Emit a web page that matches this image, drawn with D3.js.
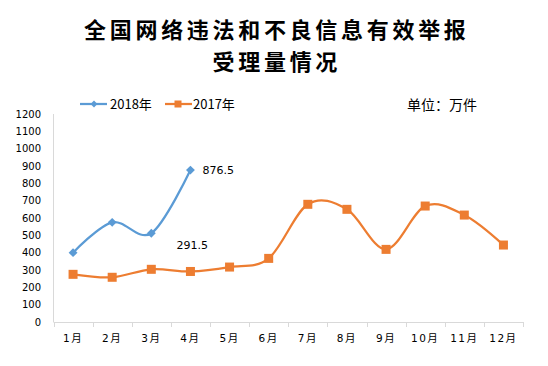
<!DOCTYPE html>
<html lang="zh">
<head>
<meta charset="UTF-8">
<title>全国网络违法和不良信息有效举报受理量情况</title>
<script src="https://d3js.org/d3.v7.min.js"></script>
<style>
  body { margin: 0; background: #fff; }
  text { fill: #000; }
</style>
</head>
<body>
<div id="chart"></div>
<script>
const months = ["1月","2月","3月","4月","5月","6月","7月","8月","9月","10月","11月","12月"];
const values2018 = [400, 575, 512, 876.5];
const values2017 = [275, 258, 304, 291.5, 317, 367, 679, 650, 419, 669, 617, 444];
const yTicks = [0,100,200,300,400,500,600,700,800,900,1000,1100,1200];
const labels = [
  { series: "2018", idx: 3, text: "876.5" },
  { series: "2017", idx: 3, text: "291.5" }
];

const W = 548, H = 366;
const cjk = "'Noto Sans CJK SC', sans-serif";
const numFont = "'DejaVu Sans', 'Noto Sans CJK SC', sans-serif";
const blue = "#5b9bd5", orange = "#ed7d31", grey = "#d9d9d9";

const svg = d3.select("#chart").append("svg")
  .attr("width", W).attr("height", H);

// title, two lines
const titleLines = ["全国网络违法和不良信息有效举报", "受理量情况"];
svg.selectAll("text.title").data(titleLines).join("text")
  .attr("class", "title")
  .attr("x", 276.8).attr("y", (d, i) => 38 + i * 32)
  .attr("text-anchor", "middle")
  .style("font-family", cjk).style("font-weight", "bold")
  .style("font-size", "22px").style("letter-spacing", "3.7px")
  .text(d => d);

const x = d3.scaleBand().domain(months).range([53.5, 523]);
const y = d3.scaleLinear().domain([0, 1200]).range([322, 114]);
const cx = m => x(m) + x.bandwidth() / 2;

// y axis
const yAxis = svg.append("g");
yAxis.append("line")
  .attr("x1", 53.5).attr("x2", 53.5)
  .attr("y1", y(1200)).attr("y2", y(0))
  .attr("stroke", grey);
yAxis.selectAll("text").data(yTicks).join("text")
  .attr("x", 41).attr("y", d => y(d))
  .attr("dy", "0.35em")
  .attr("text-anchor", "end")
  .style("font-family", numFont).style("font-size", "10px")
  .text(d => d);

// x axis
const xAxis = svg.append("g");
xAxis.append("line")
  .attr("x1", 53.5).attr("x2", 523)
  .attr("y1", y(0) + 0.5).attr("y2", y(0) + 0.5)
  .attr("stroke", grey);
xAxis.selectAll("line.tick").data(months.concat(["end"])).join("line")
  .attr("class", "tick")
  .attr("x1", (d, i) => Math.round(53.5 + i * x.bandwidth()) + 0.5)
  .attr("x2", (d, i) => Math.round(53.5 + i * x.bandwidth()) + 0.5)
  .attr("y1", y(0)).attr("y2", y(0) + 5)
  .attr("stroke", grey);
xAxis.selectAll("text").data(months).join("text")
  .attr("x", d => cx(d)).attr("y", 342)
  .attr("text-anchor", "middle")
  .style("font-family", numFont).style("font-size", "10.5px")
  .style("letter-spacing", "1.5px")
  .text(d => d);

const line = d3.line()
  .x(d => cx(d.m)).y(d => y(d.v))
  .curve(d3.curveCardinal.tension(0));

const d2017 = values2017.map((v, i) => ({ m: months[i], v }));
const d2018 = values2018.map((v, i) => ({ m: months[i], v }));

svg.append("path").datum(d2017)
  .attr("d", line).attr("fill", "none")
  .attr("stroke", orange).attr("stroke-width", 2.25);
svg.append("path").datum(d2018)
  .attr("d", line).attr("fill", "none")
  .attr("stroke", blue).attr("stroke-width", 2.25);

svg.selectAll("rect.m17").data(d2017).join("rect")
  .attr("class", "m17")
  .attr("x", d => cx(d.m) - 4.5).attr("y", d => y(d.v) - 4.5)
  .attr("width", 9).attr("height", 9)
  .attr("fill", orange);

const diamond = d3.symbol().type(d3.symbolDiamond2).size(50);
svg.selectAll("path.m18").data(d2018).join("path")
  .attr("class", "m18")
  .attr("d", diamond)
  .attr("transform", d => `translate(${cx(d.m)},${y(d.v)})`)
  .attr("fill", blue);

// data labels
svg.selectAll("text.lbl").data(labels).join("text")
  .attr("class", "lbl")
  .attr("x", d => d.series === "2018" ? cx(months[d.idx]) + 12 : cx(months[d.idx]) - 14)
  .attr("y", d => d.series === "2018" ? y(values2018[d.idx]) : y(values2017[d.idx]) - 26)
  .attr("dy", "0.35em")
  .style("font-family", numFont).style("font-size", "11px")
  .text(d => d.text);

// legend
const leg = svg.append("g");
leg.append("line").attr("x1", 80).attr("x2", 107).attr("y1", 104).attr("y2", 104)
  .attr("stroke", blue).attr("stroke-width", 2.25);
leg.append("path").attr("d", d3.symbol().type(d3.symbolDiamond2).size(30))
  .attr("transform", "translate(94,104)").attr("fill", blue);
leg.append("text").attr("x", 110).attr("y", 104).attr("dy", "0.35em")
  .style("font-family", cjk).style("font-size", "13px").text("2018年");

leg.append("line").attr("x1", 165).attr("x2", 192).attr("y1", 104).attr("y2", 104)
  .attr("stroke", orange).attr("stroke-width", 2.25);
leg.append("rect").attr("x", 174.5).attr("y", 100.5).attr("width", 7).attr("height", 7)
  .attr("fill", orange);
leg.append("text").attr("x", 193).attr("y", 104).attr("dy", "0.35em")
  .style("font-family", cjk).style("font-size", "13px").text("2017年");

svg.append("text").attr("x", 407).attr("y", 105).attr("dy", "0.35em")
  .style("font-family", cjk).style("font-size", "14px").text("单位：万件");
</script>
</body>
</html>
